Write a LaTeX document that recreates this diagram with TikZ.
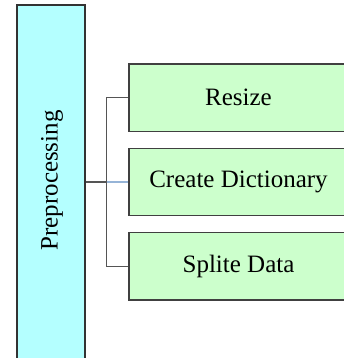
\documentclass[tikz,border=0pt]{standalone}
\usepackage{fontspec}
\setmainfont{Liberation Serif}
\begin{document}
\begin{tikzpicture}[x=1pt,y=-1pt,
  prebox/.style={draw=black!80, line width=1.2pt, fill={rgb,255:red,180;green,255;blue,255}, minimum width=68pt, minimum height=355pt, inner sep=0pt},
  stepbox/.style={draw=black!75, line width=1.2pt, fill={rgb,255:red,204;green,255;blue,204}, minimum width=219pt, minimum height=67.5pt, inner sep=0pt, font=\fontsize{25}{30}\selectfont},
  conn/.style={draw={rgb,255:red,85;green,85;blue,85}, line width=1.2pt},
  blueconn/.style={draw={rgb,255:red,150;green,180;blue,215}, line width=1.2pt}]
\useasboundingbox (0,0) rectangle (344,358);
\clip (0,0) rectangle (344,358);
\node[prebox] (pre) at (51,182.5) {};
\node[rotate=90, font=\fontsize{25}{30}\selectfont, inner sep=0pt] (pretext) at (52,180.5) {Preprocessing};
\node[stepbox] (b1) at (238.5,97.8) {Resize};
\node[stepbox] (b2) at (238.5,182) {Create Dictionary};
\node[stepbox] (b3) at (238.5,266.2) {Splite Data};
\coordinate (sp) at (106.7,182);
\draw[conn] (b1.west) -| (sp) |- (b3.west);
\draw[conn] (pre.east |- b2.west) -- (sp);
\draw[blueconn] (sp) -- (b2.west);
\end{tikzpicture}
\end{document}
